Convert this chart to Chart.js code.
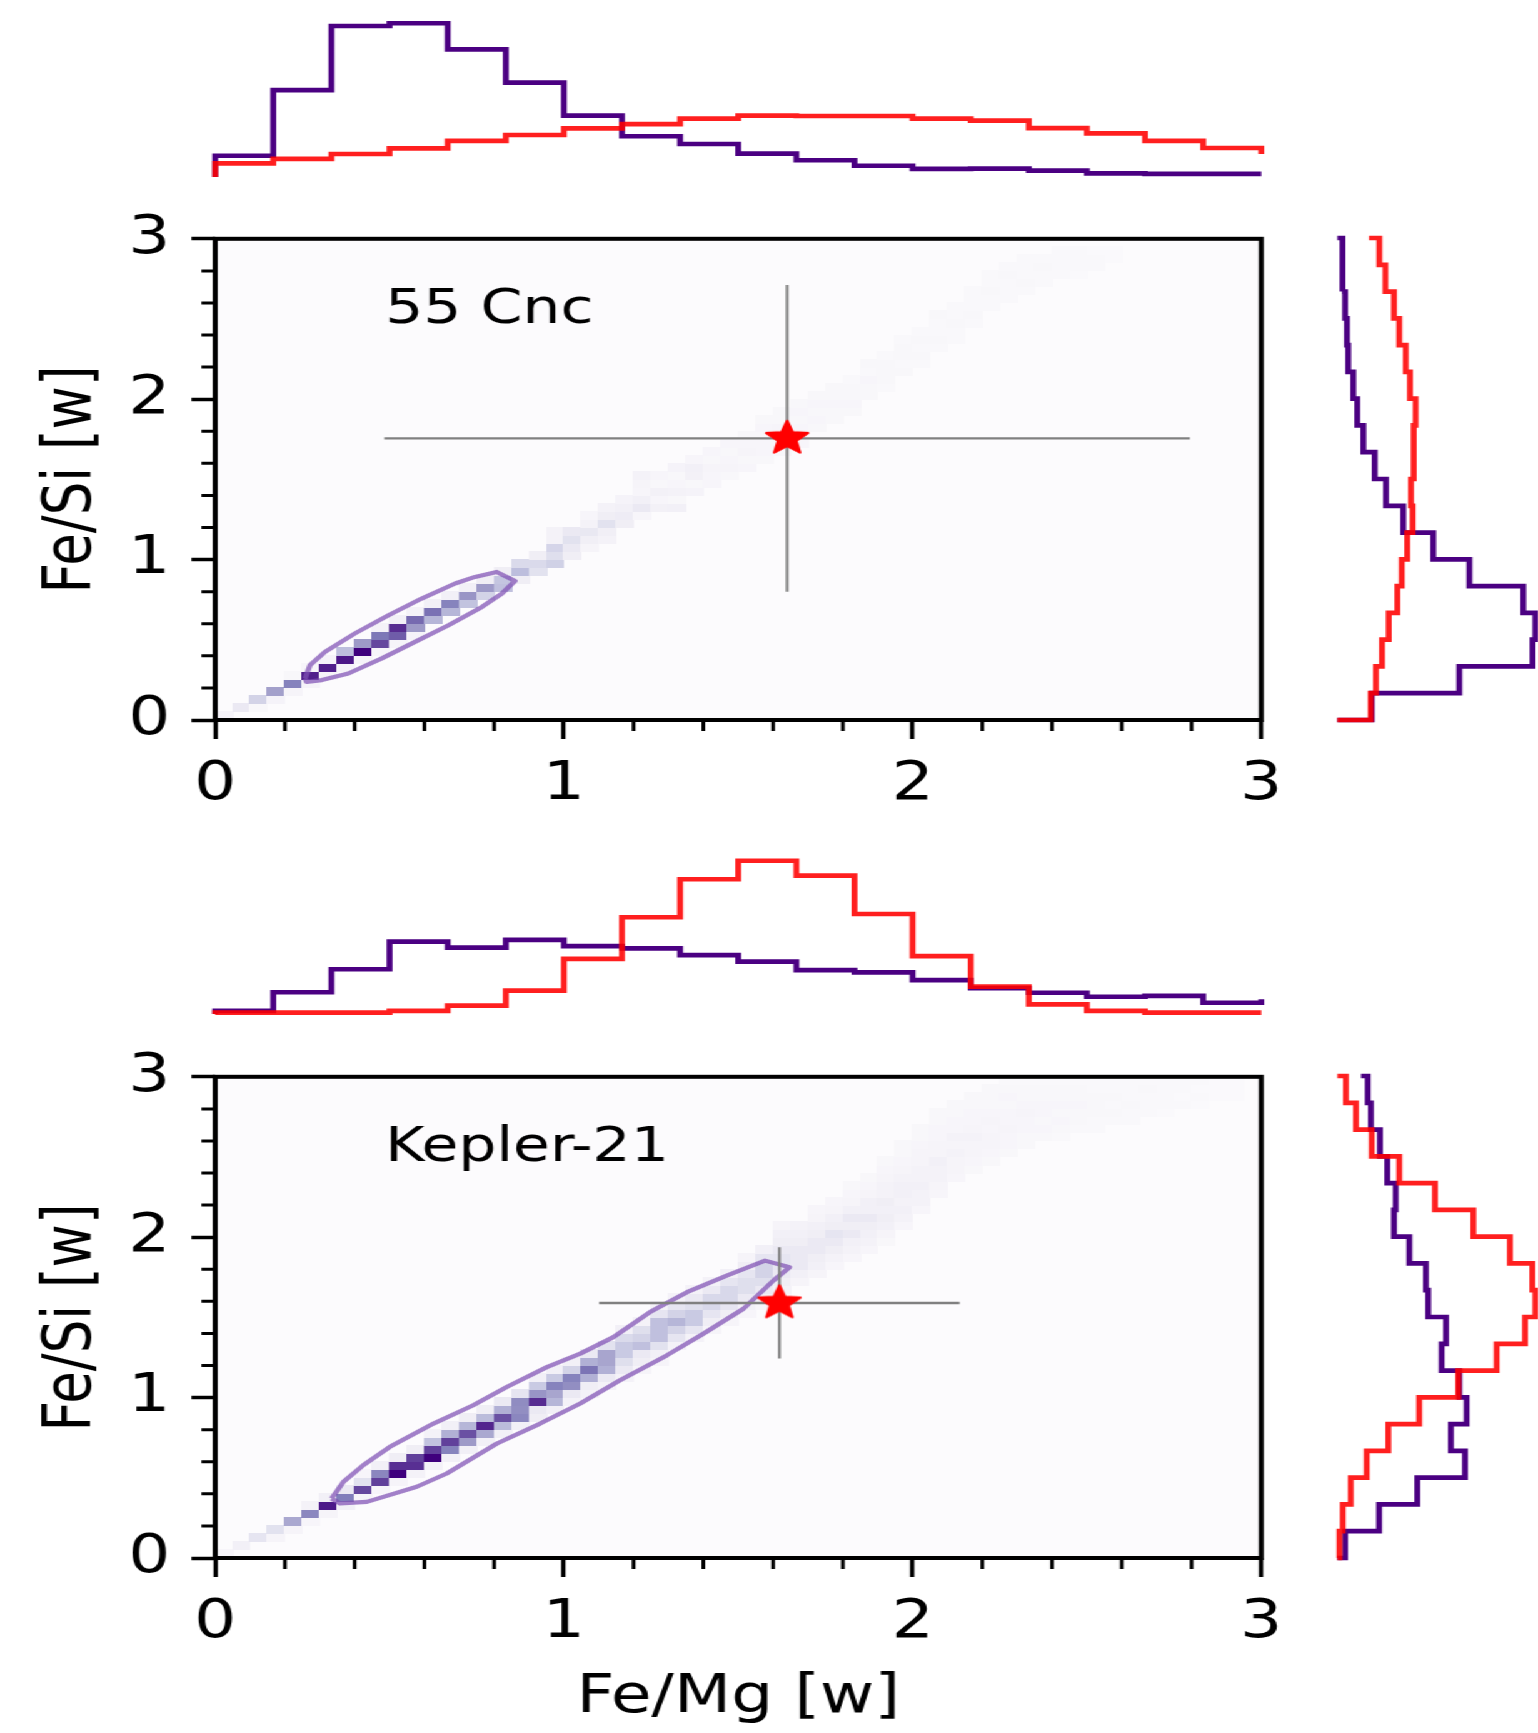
<!DOCTYPE html>
<html><head><meta charset="utf-8">
<script src="https://cdn.jsdelivr.net/npm/chart.js@4.4.1/dist/chart.umd.min.js"></script>
<style>
html,body{margin:0;padding:0;background:#fff;overflow:hidden;width:1538px;height:1733px;}
#wrap{position:absolute;left:0;top:0;width:1230px;height:1733px;transform:scaleX(1.250407);transform-origin:0 0;}
canvas{position:absolute;}
</style></head><body>
<div id="wrap">
<canvas id="hTopA" width="1040" height="200" style="left:0px;top:0px;width:1040px;height:200px"></canvas>
<canvas id="mainA" width="1040" height="630" style="left:0px;top:190px;width:1040px;height:630px"></canvas>
<canvas id="hRightA" width="220" height="630" style="left:1040px;top:190px;width:220px;height:630px"></canvas>
<canvas id="hTopB" width="1040" height="200" style="left:0px;top:830px;width:1040px;height:200px"></canvas>
<canvas id="mainB" width="1040" height="705" style="left:0px;top:1028px;width:1040px;height:705px"></canvas>
<canvas id="hRightB" width="220" height="560" style="left:1040px;top:1028px;width:220px;height:560px"></canvas>
</div>
<script>
// ---------------- DATA ----------------
const axisTickValues = [0, 1, 2, 3];
const axisTickLabels = ['0', '1', '2', '3'];
const minorTickValues = [0.2,0.4,0.6,0.8,1.2,1.4,1.6,1.8,2.2,2.4,2.6,2.8];
const xTitle = 'Fe/Mg [w]';
const yTitle = 'Fe/Si [w]';
const panelNames = ['55 Cnc', 'Kepler-21'];

const histBinCount = 18;          // bins of 1/6 over 0..3
// marginal histograms (relative density), bin 0 = lowest value
const histTopA_purple = [0.132,0.540,0.938,0.955,0.793,0.586,0.381,0.253,0.205,0.145,0.104,0.070,0.050,0.052,0.039,0.023,0.020,0.020];
const histTopA_red    = [0.085,0.112,0.143,0.178,0.225,0.261,0.302,0.329,0.362,0.381,0.379,0.379,0.362,0.350,0.304,0.271,0.224,0.180];
const histRightA_purple = [0.164,0.581,0.930,0.943,0.886,0.629,0.457,0.314,0.232,0.178,0.124,0.095,0.076,0.052,0.046,0.037,0.022,0.026];
const histRightA_red    = [0.159,0.184,0.213,0.245,0.286,0.307,0.333,0.359,0.351,0.362,0.365,0.373,0.346,0.326,0.295,0.270,0.229,0.200];
const histTopB_purple = [0.020,0.135,0.278,0.449,0.412,0.460,0.422,0.408,0.366,0.325,0.273,0.259,0.211,0.160,0.132,0.107,0.112,0.070];
const histTopB_red    = [0.008,0.008,0.008,0.019,0.052,0.145,0.343,0.601,0.837,0.952,0.859,0.621,0.360,0.170,0.060,0.019,0.008,0.008];
const histRightB_purple = [0.037,0.199,0.381,0.608,0.541,0.616,0.581,0.497,0.518,0.433,0.422,0.343,0.270,0.278,0.238,0.203,0.160,0.145];
const histRightB_red    = [0.010,0.026,0.064,0.140,0.243,0.390,0.576,0.759,0.894,0.943,0.929,0.822,0.648,0.465,0.295,0.164,0.089,0.041];
// start / end levels of each step outline (null = no end segment)
const histEnds = {
  topA_purple:[0,null], topA_red:[0,0.143],
  rightA_purple:[0,0], rightA_red:[0,0.151],
  topB_purple:[0,0.091], topB_red:[0,null],
  rightB_purple:[0,0.113], rightB_red:[0,0]
};

// stars with error bars
const starA = {x:1.64, y:1.756}, errA = {x:1.155, y:0.956};
const starB = {x:1.618, y:1.59}, errB = {x:0.517, y:0.347};

// contours
const contourA_x = [0.258,0.272,0.315,0.401,0.497,0.592,0.688,0.745,0.807,0.860,0.822,0.765,0.669,0.573,0.478,0.382,0.306,0.262,0.258];
const contourA_y = [0.260,0.342,0.425,0.540,0.653,0.757,0.851,0.892,0.923,0.867,0.788,0.705,0.591,0.487,0.384,0.290,0.249,0.238,0.260];
const contourB_x = [0.334,0.368,0.425,0.501,0.626,0.740,0.836,0.951,1.047,1.142,1.247,1.353,1.467,1.577,1.647,1.601,1.515,1.400,1.295,1.161,1.047,0.932,0.808,0.664,0.578,0.435,0.358,0.334];
const contourB_y = [0.371,0.475,0.579,0.693,0.838,0.952,1.066,1.190,1.274,1.377,1.533,1.657,1.761,1.854,1.813,1.730,1.554,1.398,1.263,1.108,0.963,0.838,0.714,0.527,0.444,0.350,0.340,0.371];

// 2D histogram cells (cell size 0.05): [column i, first row j, colour levels upward]
const heatCell = 0.05;
const heatA = [
[0,0,[0.07]],[1,1,[0.15]],[2,1,[0.04,0.28]],[3,2,[0.07,0.48]],[4,3,[0.06,0.6,0.04]],
[5,4,[0.07,0.9,0.05]],[6,5,[0.06,0.9,0.07]],[7,6,[0.07,0.93,0.37]],[8,7,[0.06,1.0,0.5]],
[9,8,[0.05,0.78,0.64,0.08]],[10,9,[0.06,0.72,0.86,0.1]],[11,10,[0.07,0.5,0.68,0.08]],
[12,12,[0.4,0.66,0.1]],[13,13,[0.4,0.6,0.1]],[14,14,[0.35,0.52,0.1]],[15,15,[0.28,0.5,0.12]],
[16,16,[0.36,0.34,0.12]],[17,17,[0.12,0.37,0.25]],[18,18,[0.2,0.25,0.12]],
[19,19,[0.29,0.22,0.27,0.08,0.08]],[20,20,[0.12,0.15,0.2,0.15]],[21,21,[0.06,0.11,0.16,0.08,0.05]],
[22,22,[0.08,0.11,0.2,0.12,0.08]],[23,24,[0.12,0.13,0.1,0.07]],[24,25,[0.05,0.15,0.1,0.05,0.06,0.08]],
[25,26,[0.09,0.05,0.09,0.04,0.05]],[26,26,[0.1,0.04,0.08,0.05,0.04,0.07]],[27,28,[0.07,0.04,0.09,0.1,0.05]],
[28,29,[0.05,0.05,0.06,0.04,0.05]],[29,30,[0.04,0.06,0.05,0.04,0.05]],[30,31,[0.05,0.04,0.06,0.05,0.04]],
[31,32,[0.04,0.05,0.05,0.04,0.05,0.04]],[32,33,[0.04,0.05,0.04,0.06,0.04,0.04]],[33,34,[0.05,0.04,0.05,0.04,0.05,0.04]],
[34,36,[0.04,0.05,0.04,0.05,0.04]],[35,37,[0.04,0.04,0.05,0.04,0.04]],[36,38,[0.04,0.05,0.04,0.04,0.03]],
[37,40,[0.04,0.04,0.05,0.03,0.04]],[38,41,[0.03,0.04,0.04,0.04,0.03]],[39,43,[0.04,0.03,0.04,0.04,0.03]],
[40,44,[0.03,0.04,0.03,0.04,0.03]],[41,46,[0.03,0.04,0.03,0.03,0.04]],[42,47,[0.03,0.03,0.04,0.03,0.03]],
[43,49,[0.03,0.04,0.03,0.03,0.03]],[44,51,[0.03,0.03,0.04,0.03,0.03]],[45,52,[0.03,0.03,0.03,0.04,0.03]],
[46,53,[0.03,0.04,0.03,0.03,0.03]],[47,54,[0.03,0.03,0.04,0.03]],[48,55,[0.03,0.03,0.03,0.03]],
[49,55,[0.02,0.03,0.03,0.03]],[50,56,[0.03,0.03,0.02]],[51,57,[0.02,0.02]]
];
const heatB = [
[0,0,[0.05]],[1,1,[0.1]],[2,2,[0.18]],[3,2,[0.06,0.2]],[4,3,[0.06,0.45]],
[5,4,[0.05,0.58,0.08]],[6,5,[0.06,0.92,0.1]],[7,6,[0.1,0.62,0.15]],[8,7,[0.06,0.78,0.2,0.05]],
[9,8,[0.05,0.8,0.58,0.1]],[10,9,[0.06,1.0,0.85,0.12]],[11,10,[0.08,0.85,0.8,0.12]],
[12,11,[0.08,1.0,0.8,0.35,0.08]],[13,12,[0.1,0.6,0.8,0.42,0.1]],[14,13,[0.1,0.5,0.75,0.4,0.12]],
[15,14,[0.1,0.45,0.88,0.38,0.12]],[16,15,[0.1,0.38,0.75,0.42,0.15]],[17,16,[0.1,0.58,0.55,0.56,0.18]],
[18,17,[0.12,0.15,0.86,0.52,0.32,0.1]],[19,18,[0.1,0.4,0.46,0.6,0.32,0.1]],[20,19,[0.08,0.15,0.55,0.6,0.28,0.1]],
[21,20,[0.08,0.12,0.42,0.65,0.42,0.15]],[22,21,[0.08,0.15,0.42,0.46,0.46,0.2]],
[23,22,[0.08,0.15,0.22,0.32,0.32,0.25,0.1]],[24,23,[0.06,0.12,0.15,0.36,0.28,0.22,0.08]],
[25,24,[0.06,0.1,0.2,0.36,0.36,0.36,0.18,0.08]],[26,26,[0.08,0.18,0.28,0.4,0.28,0.18,0.08]],
[27,27,[0.08,0.18,0.32,0.32,0.22,0.15,0.08]],[28,28,[0.06,0.12,0.18,0.26,0.26,0.15,0.08]],
[29,29,[0.06,0.12,0.18,0.26,0.26,0.18,0.1]],[30,30,[0.05,0.1,0.15,0.22,0.22,0.18,0.12,0.06]],
[31,31,[0.05,0.1,0.15,0.22,0.28,0.28,0.18,0.1]],[32,32,[0.05,0.08,0.12,0.15,0.18,0.18,0.15,0.12,0.1,0.06]],
[33,34,[0.06,0.1,0.15,0.15,0.15,0.12,0.1,0.08]],[34,35,[0.06,0.1,0.12,0.15,0.15,0.12,0.1,0.06,0.05]],
[35,36,[0.05,0.08,0.12,0.15,0.18,0.12,0.1,0.06,0.05]],[36,37,[0.05,0.08,0.1,0.15,0.12,0.15,0.1,0.06,0.05,0.04]],
[37,38,[0.05,0.08,0.1,0.12,0.15,0.1,0.1,0.06,0.05,0.04]],[38,39,[0.04,0.06,0.1,0.12,0.1,0.12,0.08,0.08,0.06,0.05,0.04]],
[39,41,[0.05,0.08,0.1,0.08,0.1,0.1,0.08,0.06,0.05,0.04,0.04]],[40,43,[0.05,0.08,0.08,0.1,0.08,0.08,0.06,0.06,0.05,0.04,0.04]],
[41,45,[0.05,0.06,0.08,0.08,0.1,0.06,0.06,0.05,0.05,0.04,0.04]],[42,47,[0.05,0.06,0.06,0.08,0.06,0.08,0.05,0.05,0.04,0.04]],
[43,48,[0.04,0.05,0.06,0.06,0.08,0.06,0.05,0.05,0.04,0.04]],[44,49,[0.04,0.05,0.06,0.06,0.05,0.06,0.05,0.04,0.04,0.04]],
[45,50,[0.04,0.05,0.05,0.06,0.05,0.05,0.04,0.05,0.04,0.03]],[46,51,[0.04,0.04,0.05,0.05,0.06,0.05,0.04,0.04,0.03]],
[47,52,[0.04,0.05,0.04,0.05,0.05,0.04,0.04,0.03]],[48,52,[0.03,0.04,0.05,0.04,0.05,0.04,0.04,0.03]],
[49,53,[0.03,0.04,0.04,0.05,0.04,0.04,0.03]],[50,53,[0.03,0.03,0.04,0.04,0.04,0.03,0.03]],
[51,54,[0.03,0.04,0.03,0.04,0.03,0.03]],[52,54,[0.03,0.03,0.04,0.03,0.03,0.03]],
[53,55,[0.03,0.03,0.03,0.04,0.03]],[54,55,[0.02,0.03,0.03,0.03,0.03]],[55,56,[0.03,0.02,0.03,0.03]],
[56,56,[0.02,0.03,0.02,0.03]],[57,57,[0.02,0.02,0.02]],[58,57,[0.02,0.02,0.02]]
];

// ---------------- STYLE ----------------
const FONT = 'DejaVu Sans';
const PURPLE = '#4b0082';
const RED = 'rgba(255,0,0,0.88)';
const CONTOUR = 'rgba(128,80,180,0.72)';
const ERRC = '#808080';
const HIST_W = 4.7;
const PURPLES = [[252,251,253],[239,237,245],[218,218,235],[188,189,220],[158,154,200],[128,125,186],[106,81,163],[84,39,143],[63,0,125]];
function purples(t){
  t = Math.max(0, Math.min(1, t));
  const f = t*8, k = Math.min(7, Math.floor(f)), u = f-k, a = PURPLES[k], b = PURPLES[k+1];
  return 'rgb(' + Math.round(a[0]+(b[0]-a[0])*u) + ',' + Math.round(a[1]+(b[1]-a[1])*u) + ',' + Math.round(a[2]+(b[2]-a[2])*u) + ')';
}
const L = 172.1, RIGHT_PAD = 31.3;

function makeStar(R, r, color){
  const size = Math.ceil(2*R + 8);
  const c = document.createElement('canvas'); c.width = size; c.height = size;
  const g = c.getContext('2d');
  g.translate(size/2, size/2);
  g.beginPath();
  for (let k = 0; k < 10; k++){
    const ang = -Math.PI/2 + k*Math.PI/5, rad = (k % 2 === 0) ? R : r;
    g.lineTo(rad*Math.cos(ang), rad*Math.sin(ang));
  }
  g.closePath();
  g.fillStyle = color; g.fill();
  g.lineJoin = 'round'; g.lineWidth = 2.2; g.strokeStyle = color; g.stroke();
  return c;
}
const starImg = makeStar(17.5, 7.6, '#ff0000');

function stepTop(vals, ends){
  const w = 3/histBinCount;
  const pts = [{x:0, y:ends[0]}];
  vals.forEach((v,k) => { pts.push({x:k*w, y:v}); pts.push({x:(k+1)*w, y:v}); });
  if (ends[1] !== null) pts.push({x:3, y:ends[1]});
  return pts;
}
function stepRight(vals, ends){
  const w = 3/histBinCount;
  const pts = [{x:ends[0], y:0}];
  vals.forEach((v,k) => { pts.push({x:v, y:k*w}); pts.push({x:v, y:(k+1)*w}); });
  if (ends[1] !== null) pts.push({x:ends[1], y:3});
  return pts;
}
function lineDs(pts, color){
  return {data:pts, showLine:true, borderColor:color, borderWidth:HIST_W, pointRadius:0, tension:0, fill:false, clip:false};
}
function histChart(id, purplePts, redPts, horizontal, pad){
  const sx = horizontal ? {min:0, max:3} : {min:0, max:1};
  const sy = horizontal ? {min:0, max:1} : {min:0, max:3};
  return new Chart(document.getElementById(id), {
    type:'scatter',
    data:{datasets:[ Object.assign(lineDs(redPts, RED), {order:0}), Object.assign(lineDs(purplePts, PURPLE), {order:1}) ]},
    options:{
      responsive:false, animation:false, devicePixelRatio:1, events:[],
      layout:{padding:pad},
      plugins:{legend:{display:false}, tooltip:{enabled:false}},
      scales:{
        x:Object.assign({type:'linear', display:false}, sx),
        y:Object.assign({type:'linear', display:false}, sy)
      }
    }
  });
}

function panelPlugin(cells, label, labelPos){
  return {
    id:'panel',
    beforeDatasetsDraw(chart){
      const {ctx, chartArea:a, scales:{x, y}} = chart;
      ctx.save();
      ctx.fillStyle = purples(0);
      ctx.fillRect(a.left, a.top, a.right-a.left, a.bottom-a.top);
      for (const [i, j0, vals] of cells){
        vals.forEach((v, k) => {
          const j = j0 + k;
          const x0 = x.getPixelForValue(i*heatCell), x1 = x.getPixelForValue((i+1)*heatCell);
          const y0 = y.getPixelForValue((j+1)*heatCell), y1 = y.getPixelForValue(j*heatCell);
          ctx.fillStyle = purples(v);
          const fx = Math.floor(x0), fy = Math.floor(y0);
          ctx.fillRect(fx, fy, Math.ceil(x1)-fx, Math.ceil(y1)-fy);
        });
      }
      ctx.restore();
    },
    afterDraw(chart){
      const {ctx, chartArea:a, scales:{x, y}} = chart;
      ctx.save();
      // annotation
      ctx.fillStyle = '#000';
      ctx.font = '48px "' + FONT + '"';
      ctx.textAlign = 'left'; ctx.textBaseline = 'alphabetic';
      ctx.fillText(label, x.getPixelForValue(labelPos.x), y.getPixelForValue(labelPos.y));
      // minor ticks
      ctx.strokeStyle = '#000'; ctx.lineWidth = 3;
      ctx.beginPath();
      for (const v of minorTickValues){
        const px = x.getPixelForValue(v);
        ctx.moveTo(px, a.bottom); ctx.lineTo(px, a.bottom + 11);
        const py = y.getPixelForValue(v);
        ctx.moveTo(a.left, py); ctx.lineTo(a.left - 11, py);
      }
      ctx.stroke();
      // frame
      ctx.lineWidth = 4;
      ctx.strokeRect(a.left, a.top, a.right-a.left, a.bottom-a.top);
      ctx.restore();
    }
  };
}

function tickCb(v){ const k = axisTickValues.indexOf(v); return k >= 0 ? axisTickLabels[k] : ''; }

function mainChart(id, cells, label, star, err, cx, cy, xAxisH, showXTitle){
  const contour = cx.map((v,k) => ({x:v, y:cy[k]}));
  return new Chart(document.getElementById(id), {
    type:'scatter',
    data:{datasets:[
      {data:[{x:star.x, y:star.y}], pointStyle:starImg, pointRadius:10, showLine:false, order:0},
      {data:[{x:star.x-err.x, y:star.y}, {x:star.x+err.x, y:star.y}], showLine:true, borderColor:ERRC, borderWidth:2.4, pointRadius:0, order:1},
      {data:[{x:star.x, y:star.y-err.y}, {x:star.x, y:star.y+err.y}], showLine:true, borderColor:ERRC, borderWidth:2.2, pointRadius:0, order:1},
      {data:contour, showLine:true, borderColor:CONTOUR, borderWidth:4.2, pointRadius:0, tension:0, fill:false, order:2, borderJoinStyle:'round'}
    ]},
    options:{
      responsive:false, animation:false, devicePixelRatio:1, events:[],
      layout:{padding:{top:48, right:RIGHT_PAD, left:0, bottom:0}},
      plugins:{legend:{display:false}, tooltip:{enabled:false}},
      scales:{
        x:{type:'linear', min:0, max:3,
           afterFit(s){ s.height = xAxisH; },
           ticks:{stepSize:1, callback:tickCb, font:{family:FONT, size:53}, color:'#000', padding:14, maxRotation:0, autoSkip:false},
           grid:{drawOnChartArea:false, drawTicks:true, tickLength:19, tickWidth:3.5, tickColor:'#000'},
           border:{display:false},
           title:{display:showXTitle, text:xTitle, font:{family:FONT, size:53}, color:'#000', padding:{top:0, bottom:3}}
        },
        y:{type:'linear', min:0, max:3,
           afterFit(s){ s.width = L; },
           ticks:{stepSize:1, callback:tickCb, font:{family:FONT, size:53}, color:'#000', padding:17, autoSkip:false},
           grid:{drawOnChartArea:false, drawTicks:true, tickLength:19, tickWidth:3.5, tickColor:'#000'},
           border:{display:false},
           title:{display:true, text:yTitle, font:{family:FONT, size:53}, color:'#000', padding:{top:26, bottom:0}}
        }
      }
    },
    plugins:[panelPlugin(cells, label, {x:0.487, y:2.477})]
  });
}

// ---------------- BUILD ----------------
histChart('hTopA', stepTop(histTopA_purple, histEnds.topA_purple), stepTop(histTopA_red, histEnds.topA_red), true,
  {left:L, right:RIGHT_PAD, top:16, bottom:23});
mainChart('mainA', heatA, panelNames[0], starA, errA, contourA_x, contourA_y, 100, false);
histChart('hRightA', stepRight(histRightA_purple, histEnds.rightA_purple), stepRight(histRightA_red, histEnds.rightA_red), false,
  {left:29.5, right:22.6, top:48, bottom:100});
histChart('hTopB', stepTop(histTopB_purple, histEnds.topB_purple), stepTop(histTopB_red, histEnds.topB_red), true,
  {left:L, right:RIGHT_PAD, top:23, bottom:16});
mainChart('mainB', heatB, panelNames[1], starB, errB, contourB_x, contourB_y, 175, true);
histChart('hRightB', stepRight(histRightB_purple, histEnds.rightB_purple), stepRight(histRightB_red, histEnds.rightB_red), false,
  {left:29.5, right:22.6, top:48, bottom:30});
</script>
</body></html>
